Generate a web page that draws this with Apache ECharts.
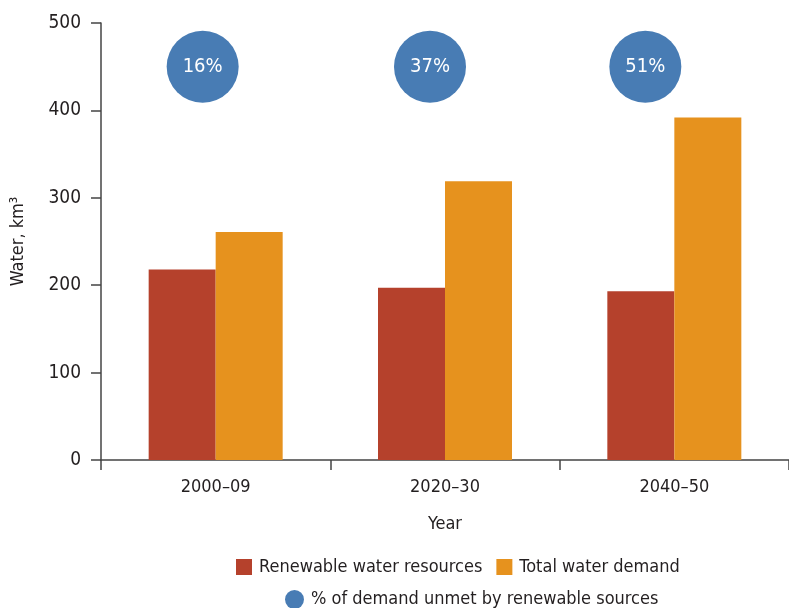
<!DOCTYPE html>
<html><head><meta charset="utf-8">
<script src="https://cdn.jsdelivr.net/npm/echarts@6/dist/echarts.min.js"></script>
<style>html,body{margin:0;padding:0;background:#fff}#c{width:789px;height:608px}</style>
</head><body><div id="c"></div>
<script>
const categories = ['2000–09', '2020–30', '2040–50'];
const renewable = [218, 197, 193];
const demand = [261, 319, 392];
const unmetPct = [16, 37, 51];
const unmetLevel = [450, 450, 450];
const yTicks = [0, 100, 200, 300, 400, 500];
const circleOffsets = [-13, -15, -29];

const FONT = '"DejaVu Sans Condensed", "Open Sans", sans-serif';
const FS = 'condensed';
const TXT = '#231f20';
const txt = (size, extra) => Object.assign({ fontFamily: FONT, fontStyle: FS, fontSize: size, color: TXT }, extra || {});
const chart = echarts.init(document.getElementById('c'));
chart.setOption({
  animation: false,
  textStyle: { fontFamily: FONT, fontStyle: FS, color: TXT },
  grid: { left: 101, right: 0, top: 23, bottom: 148, containLabel: false, outerBoundsMode: 'none' },
  legend: [
    { data: ['Renewable water resources', 'Total water demand'], top: 553, left: 231, itemWidth: 16, itemHeight: 16, itemGap: 14, textStyle: txt(18, { padding: [0, 0, 0, 2] }), icon: 'rect' },
    { data: ['% of demand unmet by renewable sources'], top: 585, left: 280, itemWidth: 19, itemHeight: 19, textStyle: txt(18, { padding: [0, 0, 0, 2] }), icon: 'circle' }
  ],
  xAxis: {
    type: 'category', data: categories,
    name: 'Year', nameLocation: 'middle', nameGap: 55,
    nameTextStyle: txt(18),
    axisLine: { lineStyle: { color: '#444', width: 1.5 } },
    axisTick: { show: true, length: 10, lineStyle: { color: '#444', width: 1.5 } },
    axisLabel: txt(18, { margin: 18 })
  },
  yAxis: {
    type: 'value', min: 0, max: 500, interval: 100,
    name: 'Water, km³', nameLocation: 'middle', nameGap: 74,
    nameTextStyle: txt(18),
    axisLine: { show: true, lineStyle: { color: '#444', width: 1.5 } },
    axisTick: { show: true, length: 10, lineStyle: { color: '#444', width: 1.5 } },
    splitLine: { show: false },
    axisLabel: txt(19, { margin: 20, formatter: v => yTicks.includes(v) ? String(v) : '' })
  },
  series: [
    { name: 'Renewable water resources', type: 'bar', data: renewable, barWidth: 67, barGap: '0%', itemStyle: { color: '#b5412c' } },
    { name: 'Total water demand', type: 'bar', data: demand, barWidth: 67, itemStyle: { color: '#e6921e' } },
    { name: '% of demand unmet by renewable sources', type: 'scatter', symbol: 'circle', symbolSize: 72,
      itemStyle: { color: '#487cb4', opacity: 1 },
      data: unmetLevel.map((v, i) => ({ value: v, symbolOffset: [circleOffsets[i], 0],
        label: { show: true, position: 'inside', formatter: unmetPct[i] + '%', color: '#fff', fontFamily: FONT, fontStyle: FS, fontSize: 20 } })) }
  ]
});
</script></body></html>
